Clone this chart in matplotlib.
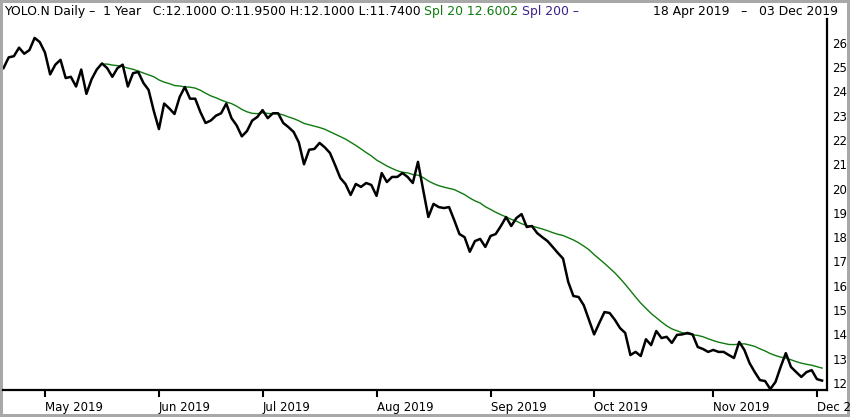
import matplotlib
matplotlib.use('Agg')
import matplotlib.pyplot as plt
import numpy as np
import pandas as pd

# trading days 18 Apr 2019 - 03 Dec 2019 (US market holidays removed)
holidays = ['2019-04-19', '2019-05-27', '2019-07-04', '2019-09-02', '2019-11-28']
dates = pd.bdate_range('2019-04-18', '2019-12-03')
dates = dates[~dates.isin(pd.to_datetime(holidays))]

# daily closes
close = [
    24.96, 25.40, 25.45, 25.80, 25.55, 25.70, 26.20, 26.03, 25.60, 24.70,
    25.10, 25.30, 24.55, 24.60, 24.20, 24.90, 23.90, 24.50, 24.90, 25.15,
    24.96, 24.60, 24.96, 25.10, 24.20, 24.75, 24.80, 24.35, 24.06, 23.20,
    22.45, 23.50, 23.30, 23.07, 23.77, 24.18, 23.70, 23.70, 23.15, 22.70,
    22.80, 23.00, 23.10, 23.50, 22.90, 22.60, 22.15, 22.37, 22.80, 22.95,
    23.23, 22.90, 23.10, 23.10, 22.70, 22.53, 22.33, 21.90, 21.00, 21.60,
    21.63, 21.88, 21.70, 21.47, 20.97, 20.44, 20.19, 19.74, 20.19, 20.07,
    20.23, 20.15, 19.70, 20.64, 20.27, 20.48, 20.48, 20.64, 20.48, 20.23,
    21.10, 19.95, 18.83, 19.37, 19.24, 19.20, 19.24, 18.70, 18.13, 18.00,
    17.40, 17.84, 17.93, 17.60, 18.05, 18.13, 18.46, 18.83, 18.46, 18.79,
    18.95, 18.42, 18.46, 18.17, 18.00, 17.84, 17.60, 17.35, 17.12, 16.16,
    15.58, 15.54, 15.20, 14.60, 14.00, 14.47, 14.92, 14.88, 14.60, 14.26,
    14.06, 13.15, 13.28, 13.11, 13.80, 13.56, 14.14, 13.85, 13.90, 13.65,
    13.98, 14.00, 14.06, 14.00, 13.48, 13.40, 13.28, 13.36, 13.28, 13.28,
    13.15, 13.03, 13.69, 13.36, 12.82, 12.45, 12.12, 12.08, 11.75, 12.04,
    12.66, 13.23, 12.66, 12.45, 12.25, 12.45, 12.53, 12.16, 12.10,
]
yticks = list(range(12, 27))

s = pd.Series(close, index=dates)
sma20 = s.rolling(20).mean()
x = np.arange(len(s))

# first trading day of each month -> tick
month = dates.to_period('M')
first = [i for i in range(1, len(dates)) if month[i] != month[i - 1]]
tick_labels = [dates[i].strftime('%b %Y') for i in first]

plt.rcParams['font.family'] = ['DejaVu Sans']
fig = plt.figure(figsize=(8.5, 4.17), dpi=100)
fig.patch.set_facecolor('white')
fig.patch.set_edgecolor('#a8a8a8')
fig.patch.set_linewidth(4)

ax = fig.add_axes([3/850, 1 - 390/417, 824/850, 371/417])
ax.plot(x, sma20.values, color='#0f7a0f', lw=1.0)
ax.plot(x, s.values, color='black', lw=1.8)

ax.set_xlim(-0.1, 158.95)
ax.set_ylim(12 - 7/24.3, 12 + 364/24.3)

for side in ['left', 'top']:
    ax.spines[side].set_visible(False)
for side in ['bottom', 'right']:
    ax.spines[side].set_linewidth(1.6)

ax.set_xticks(first)
ax.set_xticklabels(tick_labels, ha='left', fontsize=8.5)
ax.tick_params(axis='x', direction='out', length=5, width=1.5, pad=3)
ax.yaxis.tick_right()
ax.set_yticks(yticks)
ax.set_yticklabels([str(v) for v in yticks], fontsize=8.5)
ax.tick_params(axis='y', length=0, pad=4)

# header
fig.canvas.draw()
r = fig.canvas.get_renderer()
parts = [
    ('YOLO.N Daily \u2013  1 Year   C:12.1000 O:11.9500 H:12.1000 L:11.7400 ', 'black'),
    ('Spl 20 12.6002 ', '#0f7a0f'),
    ('Spl 200 \u2013', '#3c1f8c'),
]
px = 4
for txt, col in parts:
    t = fig.text(px / 850, 1 - 11/417, txt, color=col, fontsize=8.9, va='center', ha='left')
    px = t.get_window_extent(r).x1
fig.text(838/850, 1 - 11/417, '18 Apr 2019   \u2013   03 Dec 2019', fontsize=8.9,
         va='center', ha='right')

fig.savefig('out.png', dpi=100, facecolor=fig.get_facecolor(), edgecolor=fig.get_edgecolor())
